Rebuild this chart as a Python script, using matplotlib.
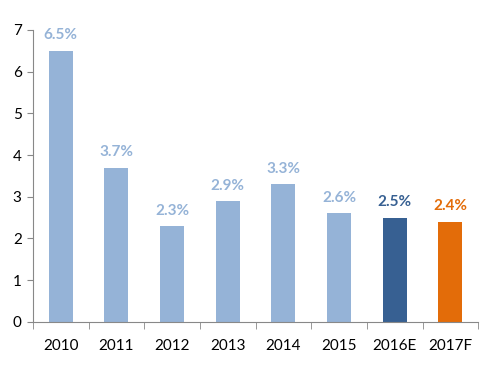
import matplotlib.pyplot as plt
import numpy as np

plt.rcParams['font.family'] = ['Lato', 'DejaVu Sans']

years = ['2010', '2011', '2012', '2013', '2014', '2015', '2016E', '2017F']
growth = [6.5, 3.7, 2.3, 2.9, 3.3, 2.6, 2.5, 2.4]
light = '#95B3D7'
colors = [light] * 6 + ['#376092', '#E36C09']


fig = plt.figure(figsize=(4.9, 3.73), dpi=100)
ax = fig.add_axes([0.067, 0.137, 0.909, 0.783])

x = np.arange(len(years))
ax.bar(x, growth, width=0.43, color=colors)

for xi, v, c in zip(x, growth, colors):
    ax.text(xi, v + 0.2, f'{v:.1f}%', ha='center', va='bottom',
            color=c, fontsize=11, fontweight='bold')

ax.set_xlim(-0.5, len(years) - 0.5)
ax.set_ylim(0, 7)
ax.set_yticks(range(0, 8))
ax.set_xticks(x)
ax.set_xticklabels(years, fontsize=11)
ax.set_xticks(np.arange(-0.5, len(years), 1), minor=True)
ax.tick_params(axis='x', which='major', length=0, pad=12)
ax.tick_params(axis='x', which='minor', length=5, color='#888888', direction='out')
ax.tick_params(axis='y', length=4, color='#888888', labelsize=11, pad=4)

for s in ['top', 'right']:
    ax.spines[s].set_visible(False)
for s in ['left', 'bottom']:
    ax.spines[s].set_color('#888888')

fig.savefig('out.png', dpi=100)
